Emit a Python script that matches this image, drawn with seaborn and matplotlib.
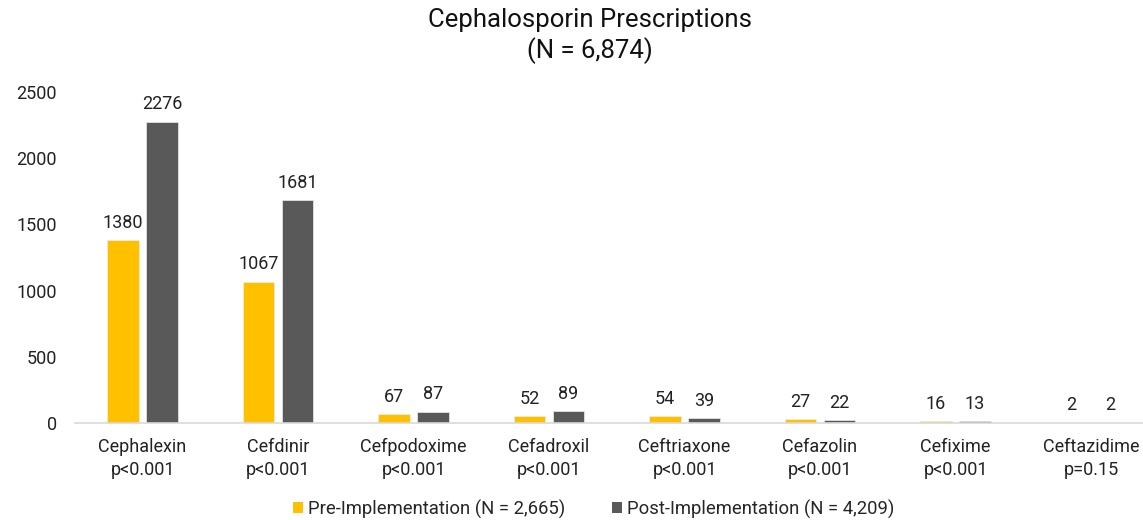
import matplotlib
matplotlib.use("Agg")
import matplotlib.pyplot as plt
import seaborn as sns
import pandas as pd
from matplotlib.patches import Patch

categories = ["Cephalexin\np<0.001", "Cefdinir\np<0.001", "Cefpodoxime\np<0.001",
              "Cefadroxil\np<0.001", "Ceftriaxone\np<0.001", "Cefazolin\np<0.001",
              "Cefixime\np<0.001", "Ceftazidime\np=0.15"]
pre_values = [1380, 1067, 67, 52, 54, 27, 16, 2]
post_values = [2276, 1681, 87, 89, 39, 22, 13, 2]
series_names = ["Pre-Implementation (N = 2,665)", "Post-Implementation (N = 4,209)"]
colors = ["#FFC000", "#595959"]
yticks = [0, 500, 1000, 1500, 2000, 2500]

df = pd.DataFrame({
    "category": categories * 2,
    "value": pre_values + post_values,
    "series": [series_names[0]] * len(categories) + [series_names[1]] * len(categories),
})

sns.set_theme(style="white")
plt.rcParams["font.family"] = ["Roboto", "DejaVu Sans"]

fig = plt.figure(figsize=(11.43, 5.2), dpi=100)
ax = fig.add_axes([0.0654, 0.1865, 0.9484, 0.6365])

sns.barplot(data=df, x="category", y="value", hue="series", palette=colors,
            width=0.575, gap=0.2, ax=ax, legend=False,
            edgecolor="#EDEDED", linewidth=0.5, saturation=1)

for cont in ax.containers:
    ax.bar_label(cont, labels=[f"{int(v)}" for v in cont.datavalues],
                 padding=6, fontsize=13, color="#222222")

ax.set_ylim(0, 2500)
ax.set_xlim(-0.5, len(categories) - 0.5)
ax.set_yticks(yticks)
ax.set_yticklabels([str(t) for t in yticks], fontsize=13, color="#222222")
ax.tick_params(axis="x", labelsize=13, colors="#222222", pad=11, length=0)
ax.tick_params(axis="y", length=0, pad=13)
for lbl in ax.get_xticklabels():
    lbl.set_linespacing(1.35)
ax.set_xlabel("")
ax.set_ylabel("")
for s in ["top", "right", "left"]:
    ax.spines[s].set_visible(False)
ax.spines["bottom"].set_color("#D9D9D9")
ax.spines["bottom"].set_linewidth(1.2)

fig.suptitle("Cephalosporin Prescriptions\n(N = 6,874)", fontsize=18.5, y=0.985,
             x=0.516, color="#111111", linespacing=1.25)

handles = [Patch(facecolor=c, edgecolor="none") for c in colors]
fig.legend(handles, series_names, loc="center", bbox_to_anchor=(0.5193, 0.021),
           ncol=2, frameon=False, fontsize=13.3, handlelength=0.55, handleheight=0.55,
           handletextpad=0.27, columnspacing=2.54)

fig.savefig("out.png", dpi=100)
